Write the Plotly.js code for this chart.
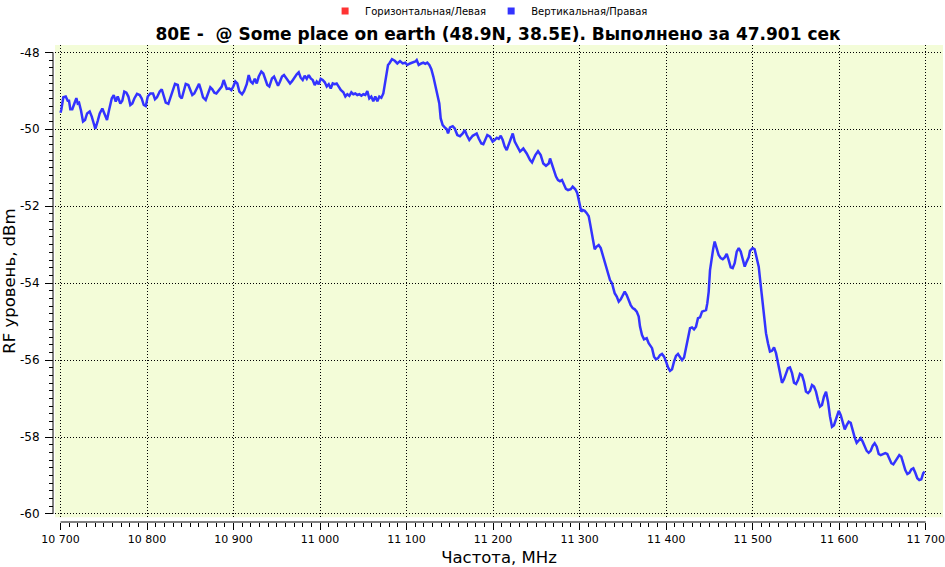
<!DOCTYPE html>
<html><head><meta charset="utf-8">
<script src="https://cdn.plot.ly/plotly-3.0.1.min.js"></script>
<style>html,body{margin:0;padding:0;background:#fff}#chart{width:945px;height:567px}</style>
</head><body><div id="chart"></div>
<script>
const seriesNames = ['Горизонтальная/Левая', 'Вертикальная/Правая'];
const seriesColors = ['#ff3333', '#3333ff'];
const titleText = '80E - \u00a0@ Some place on earth (48.9N, 38.5E). Выполнено за 47.901 сек';
const xTitle = 'Частота, MHz';
const yTitle = 'RF уровень, dBm';

const freqMHz = [
10700,10701,10703.2,10706,10708.3,10709.8,10711.3,10713.6,10716,10718.3,10719.9,10721.4,10723.7,10726,10728.3,10730.7,10733.7,10736.1,10738.4,10740.2,
10743,10745.3,10748.3,10751.4,10753.7,10756.1,10759.2,10761.5,10763.8,10766.1,10769.1,10771.4,10773.7,10776.1,10778.4,10780.7,10783,10785.3,10788.4,10791.5,
10793.8,10796.2,10798.5,10800.8,10803.8,10806.9,10809.2,10811.5,10814.7,10817,10819.3,10821.6,10824.6,10826.9,10830,10832.3,10835.5,10837.8,10840.1,10842.4,
10844.7,10847.7,10850,10852.3,10854.6,10857.8,10860.1,10862.4,10864.7,10867.8,10870.1,10873.1,10875.4,10877.8,10880.1,10883.2,10886.3,10888.6,
10892.1,10895.1,10897.4,10899.7,10902,10904.3,10906.7,10909.8,10912.1,10915.2,10917.5,10919.8,10922.1,10924.5,10926.8,10929.1,10932.1,10934.4,10936.7,10939,
10941.3,10944.4,10946.8,10949.1,10951.4,10953.7,10956,10958.3,10960.6,10962.9,10965.3,10967.6,10970.7,10973,10975.3,10977.6,10979.9,10982.2,10984.6,10986.9,
10989.2,10991.5,10993.8,10996.1,10998.4,11000.7,11003,11005.4,11007.7,11010,11012.3,11014.6,11016.9,11019.2,11021.5,11023.9,11026.9,11029.2,11031.5,11033.8,
11036.1,11038.4,11040.7,11043,11045.4,11047.7,11050,11052.3,11054.6,11056.9,11059.2,11061.5,11063.8,11066.2,11068.5,11070.8,11073.1,11074.7,11076.2,11078.5,11080,
11083.1,11086.3,11089.3,11092.4,11095.5,11098.5,11100.8,11103.9,11107.1,11110.1,11111.7,11114,11117,11119.3,11121.6,11123.9,11126.3,11128.6,11130.9,11133.2,
11135.5,11137.8,11139.4,11141.7,11144.1,11146.4,11147.9,11150.2,11153.3,11155.6,11158.6,11161.7,11164.9,11167.2,11169.5,11172.5,
11176.4,11178.7,11181,11183.4,11186.4,11188.7,11191,11193.3,11196.4,11199.5,11201.8,11204.2,11206.5,11208.8,11211.1,11213.4,11215.7,11218,11220.3,11222.7,
11225,11227.3,11231.1,11234.9,11238.8,11242.7,11245,11248.8,11251.9,11255,11258,11261.1,11264.3,11265.8,11268.1,11270.4,11272.7,11275,11277.3,11279.6,
11281.9,11284.2,11286.6,11289.7,11292,11295,11297.3,11298.9,11300.4,11301.9,11303.5,11305.9,11308.2,11310.5,11312,11313.5,11315.1,11317.4,11319.7,11322,
11324.4,11326.7,11329,11331.3,11332.8,11335.1,11337.4,11338.9,11340.5,11342.9,11345.2,11347.5,11349.8,11352.1,11354.4,11356.7,11359,11361.4,11363.7,11366,
11368.3,11369.8,11372.1,11374.4,11377.5,11379.8,11382.2,11383.7,11386,11388.3,11390.6,11392.9,11395.2,11397.6,11399.9,11402.2,11404.5,11406.8,11409.1,11411.4,
11413.7,11416,11418.4,11420.7,11423,11425.3,11427.6,11429.9,11432.2,11434.5,11436.8,11439.2,11441.5,11443.8,11446.1,11447.6,11449.2,11450.7,11452.2,11454.5,
11456.1,11458.4,11460.7,11463.1,11465.4,11467.7,11470,11472.3,11474.6,11476.9,11479.2,11481.6,11483.9,11486.2,11488.5,11490.8,11493.1,11495.4,11496.9,11500,
11502.3,11504.7,11507,11509.3,11510.8,11512.3,11513.9,11515.4,
11517.7,11520,11522.3,11524.7,11527,11529.3,11531.6,11533.9,11536.2,11538.5,11540.8,11543.1,11545.5,11547.8,11550.1,11552.4,11554.7,11557,11559.3,11561.6,
11564,11566.3,11568.6,11570.9,11573.2,11575.5,11577.8,11580.1,11582.4,11584.8,11587.1,11589.4,11591.7,11594,11596.3,11599.5,11601.8,11604.1,11606.4,11608.7,
11611,11613.3,11615.6,11617.9,11620.2,11622.6,11624.9,11627.2,11629.5,11631.8,11634.1,11636.4,11638.7,11641,11643.4,11645.7,11648,11650.3,11653.3,11655.6,
11658,11660.3,11662.6,11664.9,11667.2,11669.5,11671.8,11674.1,11676.4,11678.8,11681.1,11683.4,11685.7,11688,11690.3,11692.6,11694.9,11697.2,11698.8
];

const levelVert = [
-49.57,-49.48,-49.17,-49.15,-49.26,-49.26,-49.48,-49.48,-49.33,-49.19,-49.33,-49.31,-49.52,-49.80,-49.76,-49.59,-49.54,-49.67,-49.85,-49.99,
-49.78,-49.59,-49.46,-49.63,-49.76,-49.50,-49.20,-49.11,-49.28,-49.15,-49.33,-49.26,-49.02,-49.05,-49.15,-49.37,-49.33,-49.20,-49.08,-49.11,
-49.20,-49.37,-49.40,-49.15,-49.07,-49.07,-49.22,-49.17,-49.02,-48.96,-49.14,-49.31,-49.34,-49.17,-48.98,-48.82,-48.85,-49.14,-49.20,-48.98,
-48.82,-48.85,-49.00,-49.11,-49.07,-48.94,-48.82,-48.98,-49.17,-49.24,-49.07,-48.91,-48.96,-49.05,-49.07,-48.98,-48.89,-48.72,
-48.95,-48.94,-48.98,-48.89,-48.76,-48.81,-49.02,-49.09,-49.01,-48.83,-48.59,-48.76,-48.81,-48.69,-48.81,-48.63,-48.50,-48.55,-48.72,-48.85,
-48.89,-48.68,-48.63,-48.76,-48.87,-48.76,-48.63,-48.59,-48.66,-48.72,-48.81,-48.75,-48.63,-48.57,-48.52,-48.66,-48.72,-48.61,-48.69,-48.59,
-48.68,-48.72,-48.85,-48.76,-48.83,-48.69,-48.72,-48.78,-48.89,-48.83,-48.94,-48.81,-48.83,-48.81,-48.89,-48.98,-49.04,-49.15,-49.09,-49.13,
-49.04,-49.09,-49.07,-49.11,-49.09,-49.13,-49.09,-49.11,-49.01,-49.20,-49.15,-49.27,-49.15,-49.27,-49.15,-49.18,-49.07,-48.85,-48.59,-48.33,-48.29,
-48.18,-48.22,-48.29,-48.23,-48.29,-48.27,-48.33,-48.29,-48.27,-48.24,-48.20,-48.33,-48.29,-48.27,-48.30,-48.27,-48.33,-48.44,-48.63,-48.89,
-49.15,-49.33,-49.72,-49.89,-49.95,-50.00,-50.11,-49.95,-49.92,-49.98,-50.15,-50.18,-50.11,-50.02,-50.15,-50.28,
-50.17,-50.15,-50.11,-50.24,-50.37,-50.39,-50.28,-50.15,-50.19,-50.32,-50.28,-50.22,-50.25,-50.17,-50.28,-50.45,-50.54,-50.39,-50.24,-50.11,
-50.32,-50.41,-50.58,-50.50,-50.63,-50.80,-50.86,-50.67,-50.57,-50.67,-50.89,-50.95,-50.89,-50.76,-50.93,-51.10,-51.23,-51.32,-51.35,-51.32,
-51.45,-51.55,-51.58,-51.56,-51.49,-51.56,-51.66,-51.84,-52.01,-52.14,-52.10,-52.12,-52.18,-52.26,-52.44,-52.62,-52.84,-53.12,-53.05,-53.01,
-53.09,-53.27,-53.48,-53.66,-53.79,-53.92,-54.00,-54.13,-54.26,-54.35,-54.48,-54.42,-54.31,-54.22,-54.31,-54.44,-54.57,-54.65,-54.68,-54.74,
-54.87,-55.13,-55.35,-55.46,-55.43,-55.56,-55.65,-55.69,-55.91,-55.98,-55.95,-55.87,-55.84,-55.91,-56.04,-56.19,-56.28,-56.24,-56.04,-55.89,
-55.84,-55.91,-56.00,-55.93,-55.65,-55.39,-55.17,-55.15,-55.20,-55.13,-54.91,-54.89,-54.74,-54.72,-54.70,-54.52,-54.22,-53.66,-53.40,-53.09,
-52.92,-53.09,-53.27,-53.35,-53.38,-53.33,-53.24,-53.40,-53.59,-53.61,-53.48,-53.18,-53.09,-53.18,-53.42,-53.57,-53.44,-53.33,-53.16,-53.09,
-53.12,-53.35,-53.57,-54.05,-54.35,-54.70,-55.00,-55.30,
-55.56,-55.78,-55.76,-55.67,-55.82,-56.08,-56.34,-56.59,-56.50,-56.33,-56.21,-56.19,-56.34,-56.59,-56.62,-56.52,-56.36,-56.39,-56.56,-56.82,
-56.86,-56.80,-56.65,-56.69,-56.82,-57.04,-57.21,-57.17,-56.95,-56.82,-57.08,-57.47,-57.73,-57.69,-57.51,-57.32,-57.43,-57.60,-57.80,-57.69,
-57.60,-57.63,-57.86,-58.01,-58.15,-58.08,-58.03,-58.12,-58.25,-58.36,-58.41,-58.36,-58.23,-58.16,-58.25,-58.44,-58.47,-58.44,-58.42,-58.44,
-58.55,-58.68,-58.71,-58.64,-58.55,-58.47,-58.51,-58.68,-58.86,-58.96,-58.93,-58.84,-58.81,-58.93,-59.07,-59.12,-59.10,-58.94,-58.90
];

// The horizontal/left polarization has no measured points in the picture.
const freqHoriz = [null];
const levelHoriz = [null];

const xTickVals = [10700, 10800, 10900, 11000, 11100, 11200, 11300, 11400, 11500, 11600, 11700];
const xTickText = ['10 700', '10 800', '10 900', '11 000', '11 100', '11 200', '11 300', '11 400', '11 500', '11 600', '11 700'];
const yTickVals = [-60, -58, -56, -54, -52, -50, -48];
const yTickText = ['-60', '-58', '-56', '-54', '-52', '-50', '-48'];

const xMinor = [];
for (let f = 10700; f <= 11700; f += 10) xMinor.push(f);
const yMinor = [];
for (let k = -300; k <= -240; k++) yMinor.push(Math.round(k * 20) / 100);

const FONT = 'DejaVu Sans, Verdana, sans-serif';

const traces = [
  {x: freqMHz, y: levelVert, type: 'scatter', mode: 'lines', name: seriesNames[1],
   line: {color: seriesColors[1], width: 2.5}, showlegend: false, hoverinfo: 'x+y'},
  {x: freqHoriz, y: levelHoriz, type: 'scatter', mode: 'markers', name: seriesNames[0],
   marker: {color: seriesColors[0], symbol: 'square', size: 7}, showlegend: true},
  {x: [null], y: [null], type: 'scatter', mode: 'markers', name: seriesNames[1],
   marker: {color: seriesColors[1], symbol: 'square', size: 7}, showlegend: true}
];

const layout = {
  width: 945, height: 567,
  margin: {l: 53, r: 2, t: 45, b: 45, pad: 0, autoexpand: false},
  paper_bgcolor: '#ffffff',
  plot_bgcolor: '#f3fcd8',
  font: {family: FONT, color: '#000', size: 12},
  title: {text: titleText, x: 0.5, xref: 'paper', xanchor: 'center', y: 1 - 34/567, yref: 'container', yanchor: 'middle',
          font: {family: FONT, size: 17, color: '#000', weight: 'bold'}},
  showlegend: true,
  legend: {orientation: 'h', x: 0.49, xanchor: 'center', y: (522 - 11) / 477, yanchor: 'middle',
           font: {family: FONT, size: 10, color: '#000'}, bgcolor: 'rgba(0,0,0,0)', itemclick: false, itemdoubleclick: false},
  xaxis: {
    domain: [2/890, 1], anchor: 'free', position: 0,
    range: [10693.6, 11720], autorange: false,
    tickmode: 'array', tickvals: xTickVals, ticktext: xTickText,
    ticks: 'outside', ticklen: 7, tickwidth: 1, tickcolor: '#000',
    minor: {tickmode: 'array', tickvals: xMinor, ticks: 'outside', ticklen: 4, tickwidth: 1, tickcolor: '#000', showgrid: false},
    showgrid: true, gridcolor: '#000', gridwidth: 1, griddash: '1px,2px',
    zeroline: false, showline: false, ticklabeloverflow: 'allow',
    tickfont: {family: FONT, size: 11, color: '#000'},
    title: {text: xTitle, font: {family: FONT, size: 16.5, color: '#000'}, standoff: 7}
  },
  yaxis: {
    domain: [4.7/477, 1], anchor: 'free', position: 0,
    range: [-60.086, -47.81], autorange: false,
    tickmode: 'array', tickvals: yTickVals, ticktext: yTickText,
    ticks: 'outside', ticklen: 8, tickwidth: 1, tickcolor: '#000',
    minor: {tickmode: 'array', tickvals: yMinor, ticks: 'outside', ticklen: 4, tickwidth: 1, tickcolor: '#000', showgrid: false},
    showgrid: true, gridcolor: '#000', gridwidth: 1, griddash: '1px,2px',
    zeroline: false, showline: false, ticklabeloverflow: 'allow',
    ticklabelstandoff: 3,
    tickfont: {family: FONT, size: 12, color: '#000'},
    title: {text: yTitle, font: {family: FONT, size: 16.5, color: '#000'}, standoff: 3}
  },
  shapes: [
    {type: 'line', xref: 'x', yref: 'paper', x0: xTickVals[0], x1: xTickVals[xTickVals.length - 1], y0: 0, y1: 0,
     line: {color: '#000', width: 1}, layer: 'above'},
    {type: 'line', xref: 'paper', yref: 'y', x0: 0, x1: 0, y0: yTickVals[0], y1: yTickVals[yTickVals.length - 1],
     line: {color: '#000', width: 1}, layer: 'above'}
  ]
};

Plotly.newPlot('chart', traces, layout, {displayModeBar: false});
</script>
</body></html>
